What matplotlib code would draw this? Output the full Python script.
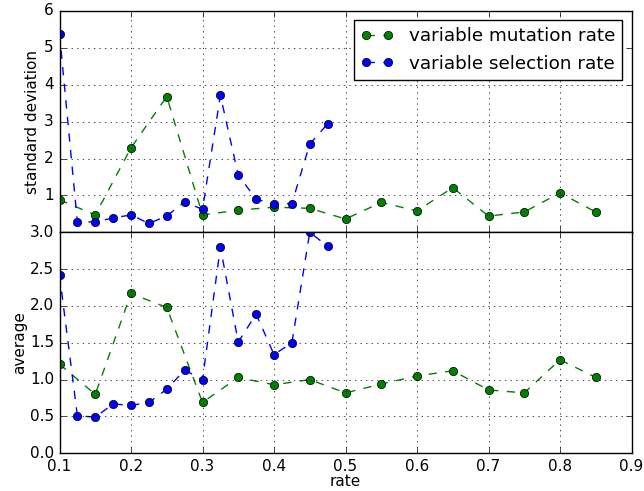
import matplotlib
matplotlib.use("Agg")
import matplotlib.pyplot as plt

plt.style.use("classic")
plt.rcParams["font.size"] = 11

# mutation rate sweep
mut_rate = [0.1, 0.15, 0.2, 0.25, 0.3, 0.35, 0.4, 0.45, 0.5, 0.55, 0.6,
            0.65, 0.7, 0.75, 0.8, 0.85]
mut_std = [0.88, 0.47, 2.29, 3.68, 0.47, 0.60, 0.68, 0.65, 0.36, 0.81, 0.58,
           1.21, 0.44, 0.55, 1.07, 0.55]
mut_avg = [1.21, 0.80, 2.17, 1.98, 0.69, 1.03, 0.93, 1.00, 0.82, 0.94, 1.05,
           1.12, 0.86, 0.82, 1.27, 1.03]

# selection rate sweep
sel_rate = [0.1, 0.125, 0.15, 0.175, 0.2, 0.225, 0.25, 0.275, 0.3, 0.325,
            0.35, 0.375, 0.4, 0.425, 0.45, 0.475]
sel_std = [5.38, 0.28, 0.28, 0.39, 0.47, 0.24, 0.44, 0.83, 0.62, 3.71,
           1.55, 0.90, 0.76, 0.78, 2.39, 2.94]
sel_avg = [2.42, 0.51, 0.49, 0.67, 0.65, 0.69, 0.87, 1.13, 1.00, 2.80,
           1.51, 1.89, 1.34, 1.50, 3.00, 2.81]

fig = plt.figure(figsize=(6.44, 4.91), dpi=100, facecolor="white")
ax1 = fig.add_axes([0.0924, 0.5269, 0.8882, 0.4507])
ax2 = fig.add_axes([0.0924, 0.0768, 0.8882, 0.4501], sharex=ax1)

ax1.plot(mut_rate, mut_std, "g--o", label="variable mutation rate")
ax1.plot(sel_rate, sel_std, "b--o", label="variable selection rate")
ax1.set_ylim(0, 6)
ax1.set_yticks([1, 2, 3, 4, 5, 6])
ax1.set_ylabel("standard deviation", labelpad=3)
ax1.grid(True)
ax1.legend(loc="upper right", numpoints=2, handlelength=1.8)
plt.setp(ax1.get_xticklabels(), visible=False)

ax2.plot(mut_rate, mut_avg, "g--o")
ax2.plot(sel_rate, sel_avg, "b--o")
ax2.set_ylim(0, 3)
ax2.set_xlim(0.1, 0.9)
ax2.set_ylabel("average", labelpad=2)
ax2.set_xlabel("rate", labelpad=0)
ax2.grid(True)

fig.savefig("out.png", dpi=100, facecolor="white")
